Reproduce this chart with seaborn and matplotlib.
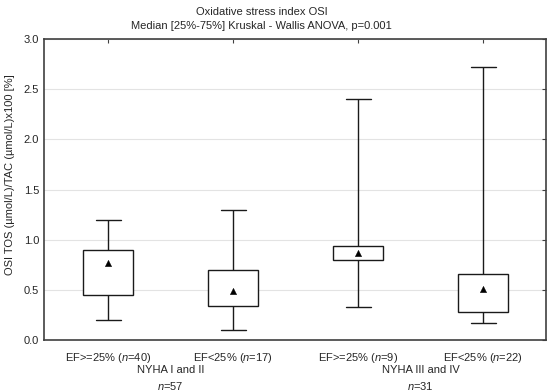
import numpy as np
import pandas as pd
import matplotlib
matplotlib.use("Agg")
import matplotlib.pyplot as plt
import seaborn as sns

# ---- data ----
groups = ["EF>=25% ($\\it{n}$=40)", "EF<25% ($\\it{n}$=17)",
          "EF>=25% ($\\it{n}$=9)", "EF<25% ($\\it{n}$=22)"]
minimum = [0.20, 0.10, 0.33, 0.17]
q25 = [0.45, 0.34, 0.80, 0.28]
median = [0.77, 0.49, 0.87, 0.51]
q75 = [0.90, 0.70, 0.94, 0.66]
maximum = [1.20, 1.30, 2.40, 2.72]
nyha_labels = ["NYHA I and II", "NYHA III and IV"]
nyha_n = ["$\\it{n}$=57", "$\\it{n}$=31"]

# five values per group -> whis=(0, 100) gives min/q25/median/q75/max exactly
rows = []
for g, a, b, c, d, e in zip(groups, minimum, q25, median, q75, maximum):
    for v in (a, b, c, d, e):
        rows.append({"group": g, "value": v})
df = pd.DataFrame(rows)
med_df = pd.DataFrame({"group": groups, "value": median})

sns.set_style("white")
plt.rcParams["font.family"] = ["Liberation Sans", "DejaVu Sans"]
plt.rcParams["mathtext.fontset"] = "custom"
plt.rcParams["mathtext.rm"] = "Liberation Sans"
plt.rcParams["mathtext.it"] = "Liberation Sans:italic"

FS = 8

fig, ax = plt.subplots(figsize=(5.5, 3.91), dpi=100)
fig.subplots_adjust(left=0.08, right=0.993, top=0.900, bottom=0.130)

ax.yaxis.grid(True, color="#e3e3e3", linewidth=0.8)
ax.set_axisbelow(True)

line_kw = {"color": "#1a1a1a", "linewidth": 1.0}
sns.boxplot(data=df, x="group", y="value", whis=(0, 100), width=0.4,
            color="white", linecolor="#1a1a1a", linewidth=1.0,
            showfliers=False, showcaps=True,
            medianprops={"visible": False},
            capprops=line_kw, whiskerprops=line_kw,
            boxprops={"facecolor": "white", "edgecolor": "#1a1a1a", "linewidth": 1.0},
            ax=ax)
# widen caps to match the reference
for ln in ax.lines:
    xd = ln.get_xdata()
    if len(xd) == 2 and xd[0] != xd[1] and ln.get_ydata()[0] == ln.get_ydata()[1]:
        c = (xd[0] + xd[1]) / 2
        ln.set_xdata([c - 0.1, c + 0.1])

sns.scatterplot(data=med_df, x="group", y="value", marker="^", s=20,
                color="black", edgecolor="black", zorder=5, ax=ax, legend=False)

ax.set_xlim(-0.512, 3.504)
ax.set_ylim(0, 3.0)
ax.set_yticks(np.arange(0, 3.01, 0.5))
ax.set_yticklabels([f"{v:.1f}" for v in np.arange(0, 3.01, 0.5)], fontsize=FS)
ax.set_xticks(range(len(groups)))
ax.set_xticklabels(groups, fontsize=FS)
ax.tick_params(axis="both", direction="in", length=3, color="#404040",
               top=True, right=True, labeltop=False, labelright=False)
ax.tick_params(axis="x", pad=8)
for s in ax.spines.values():
    s.set_color("#404040")
    s.set_linewidth(1.2)

ax.set_xlabel("")
ax.set_ylabel("OSI TOS (µmol/L)/TAC (µmol/L)x100 [%]", fontsize=FS)
ax.yaxis.set_label_coords(-0.058, 0.55)

# group labels under the ticks
for xc, lab, n in zip([0.5, 2.5], nyha_labels, nyha_n):
    ax.text(xc, -0.082, lab, ha="center", va="top", fontsize=FS,
            transform=ax.get_xaxis_transform())
    ax.text(xc, -0.132, n, ha="center", va="top", fontsize=FS,
            transform=ax.get_xaxis_transform())

fig.text(0.476, 0.982,
         "Oxidative stress index OSI\nMedian [25%-75%] Kruskal - Wallis ANOVA, p=0.001",
         ha="center", va="top", fontsize=FS, linespacing=1.5)

fig.savefig("out.png", dpi=100)
